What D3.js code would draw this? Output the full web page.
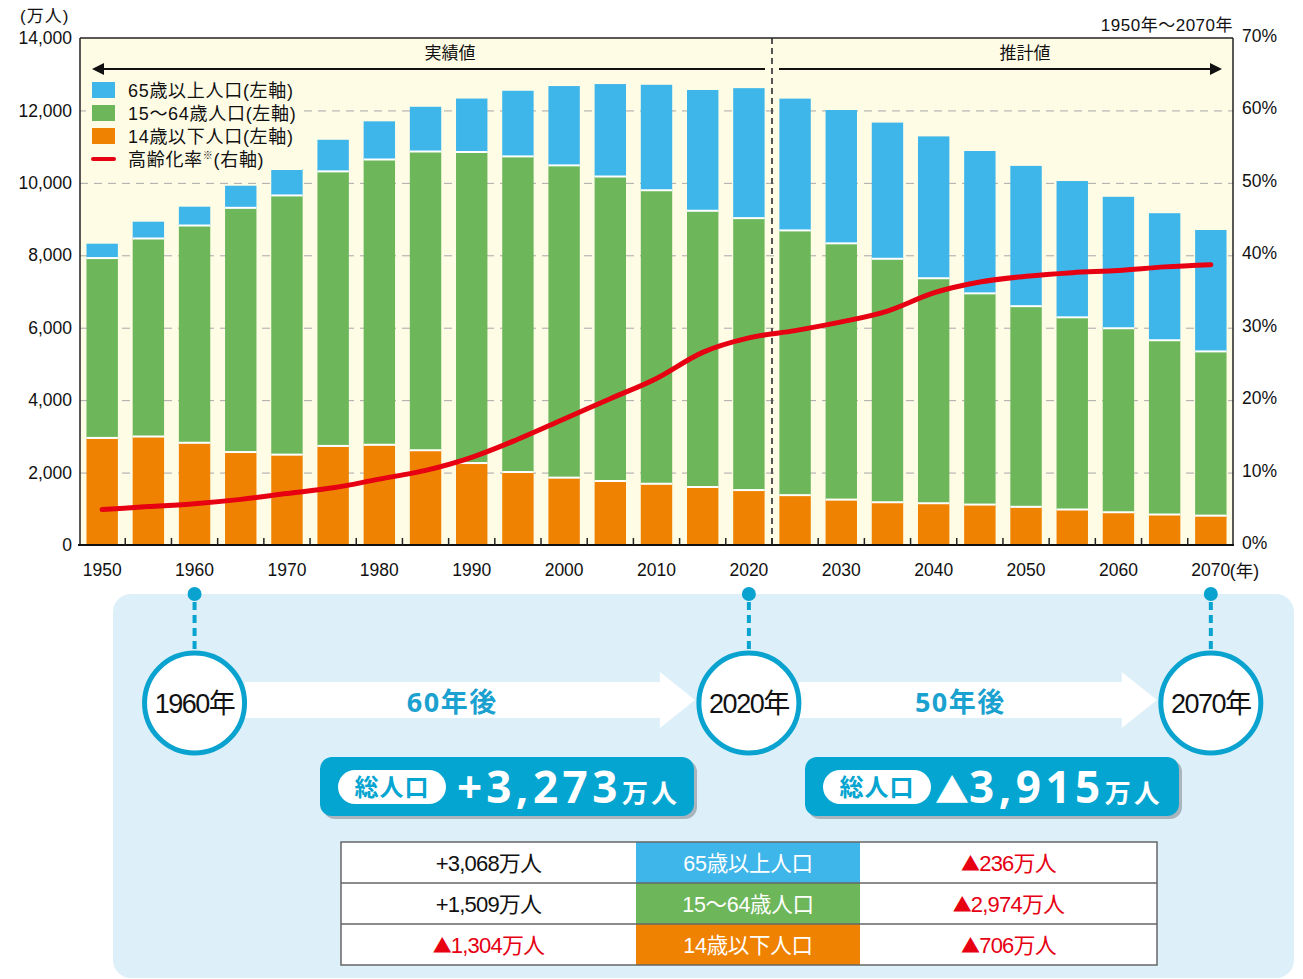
<!DOCTYPE html>
<html lang="ja">
<head>
<meta charset="utf-8">
<script src="https://cdn.jsdelivr.net/npm/d3@7"></script>
<style>
  body { margin: 0; background: #fff; }
  text { font-family: "Liberation Sans", "Noto Sans CJK JP", sans-serif; }
</style>
</head>
<body>
<svg id="chart" width="1303" height="979"></svg>
<script>
// 人口の推移 (万人) 1950-2070
const years = [1950, 1955, 1960, 1965, 1970, 1975, 1980, 1985, 1990, 1995, 2000, 2005, 2010,
  2015, 2020, 2025, 2030, 2035, 2040, 2045, 2050, 2055, 2060, 2065, 2070];
const under15 = [2943, 2980, 2807, 2553, 2482, 2722, 2751, 2603, 2249, 2001, 1847, 1752, 1680,
  1589, 1503, 1363, 1240, 1169, 1142, 1103, 1041, 966, 893, 831, 797];
const age15to64 = [4966, 5473, 6000, 6744, 7157, 7581, 7883, 8251, 8590, 8716, 8622, 8409, 8103,
  7629, 7509, 7310, 7076, 6722, 6213, 5832, 5540, 5307, 5078, 4809, 4535];
const over65 = [411, 475, 535, 624, 733, 887, 1065, 1247, 1489, 1826, 2204, 2567, 2925,
  3347, 3603, 3653, 3696, 3773, 3928, 3945, 3888, 3777, 3644, 3522, 3367];
// 高齢化率 (%)
const agingRate = [4.9, 5.3, 5.7, 6.3, 7.1, 7.9, 9.1, 10.3, 12.1, 14.6, 17.4, 20.2, 23.0,
  26.6, 28.6, 29.6, 30.8, 32.3, 34.8, 36.3, 37.1, 37.6, 37.9, 38.4, 38.7];

const leftTicks = [0, 2000, 4000, 6000, 8000, 10000, 12000, 14000];
const rightTicks = [0, 10, 20, 30, 40, 50, 60, 70];
const yearLabels = [1950, 1960, 1970, 1980, 1990, 2000, 2010, 2020, 2030, 2040, 2050, 2060, 2070];
const legendNames = ["65歳以上人口(左軸)", "15～64歳人口(左軸)", "14歳以下人口(左軸)"];
const groupNames = ["65歳以上人口", "15～64歳人口", "14歳以下人口"];
const milestones = [1960, 2020, 2070];

// 増減 (万人)
const totalChange = [3273, -3915];
const change1960to2020 = [3068, 1509, -1304];
const change2020to2070 = [-236, -2974, -706];

const colors = { over65: "#3FB6EA", age15to64: "#6DB75A", under15: "#EF8200" };
const red = "#E60012";
const cyan = "#0AA3CF";

const svg = d3.select("#chart");

const plotLeft = 80, plotRight = 1233, plotTop = 38, plotBottom = 545;

const x = d3.scaleBand()
  .domain(years)
  .range([plotLeft, plotRight])
  .paddingInner(0.32)
  .paddingOuter(0.14);
const yL = d3.scaleLinear().domain([0, 14000]).range([plotBottom, plotTop]);
const yR = d3.scaleLinear().domain([0, 70]).range([plotBottom, plotTop]);
const bw = x.bandwidth();

// fondo crema
svg.append("rect")
  .attr("x", plotLeft).attr("y", plotTop)
  .attr("width", plotRight - plotLeft).attr("height", plotBottom - plotTop)
  .attr("fill", "#FFFCE6");

// grid
const grid = svg.append("g")
  .attr("transform", `translate(${plotLeft},0)`)
  .call(d3.axisLeft(yL).tickValues(leftTicks.slice(1, -1)).tickSize(-(plotRight - plotLeft)).tickFormat(""));
grid.select(".domain").remove();
grid.selectAll("line")
  .attr("stroke", "#A8A8A8")
  .attr("stroke-dasharray", "8,6");

// barras apiladas
const rows = years.map((yr, i) => ({
  year: yr, under15: under15[i], age15to64: age15to64[i], over65: over65[i]
}));
const series = d3.stack().keys(["under15", "age15to64", "over65"])(rows);

const layers = svg.append("g")
  .selectAll("g")
  .data(series)
  .join("g")
  .attr("fill", d => colors[d.key]);

layers.selectAll("rect")
  .data(d => d)
  .join("rect")
  .attr("x", d => x(d.data.year))
  .attr("width", bw)
  .attr("y", d => yL(d[1]))
  .attr("height", d => yL(d[0]) - yL(d[1]));

// linea blanca entre segmentos
svg.append("g")
  .selectAll("g")
  .data(series.slice(1))
  .join("g")
  .selectAll("line")
  .data(d => d)
  .join("line")
  .attr("x1", d => x(d.data.year))
  .attr("x2", d => x(d.data.year) + bw)
  .attr("y1", d => yL(d[0]) - 0.5)
  .attr("y2", d => yL(d[0]) - 0.5)
  .attr("stroke", "#fff")
  .attr("stroke-width", 2);

// separador 実績値 / 推計値
const sepX = x(2025) - x.step() * x.paddingInner() / 2;
svg.append("line")
  .attr("x1", sepX).attr("x2", sepX)
  .attr("y1", plotTop).attr("y2", plotBottom)
  .attr("stroke", "#555")
  .attr("stroke-width", 2)
  .attr("stroke-dasharray", "6,4");

// 高齢化率
const line = d3.line()
  .x((d, i) => x(years[i]) + bw / 2)
  .y(d => yR(d))
  .curve(d3.curveMonotoneX);
svg.append("path")
  .datum(agingRate)
  .attr("d", line)
  .attr("fill", "none")
  .attr("stroke", red)
  .attr("stroke-width", 5)
  .attr("stroke-linecap", "round")
  .attr("stroke-linejoin", "round");

// bordes
svg.append("line").attr("x1", plotLeft).attr("x2", plotRight).attr("y1", plotTop).attr("y2", plotTop)
  .attr("stroke", "#222").attr("stroke-width", 1.5);
svg.append("line").attr("x1", plotLeft).attr("x2", plotLeft).attr("y1", plotTop).attr("y2", plotBottom)
  .attr("stroke", "#222").attr("stroke-width", 1.5);
svg.append("line").attr("x1", plotRight).attr("x2", plotRight).attr("y1", plotTop).attr("y2", plotBottom)
  .attr("stroke", "#222").attr("stroke-width", 1.5);
svg.append("line").attr("x1", plotLeft - 2).attr("x2", plotRight + 1).attr("y1", plotBottom).attr("y2", plotBottom)
  .attr("stroke", "#111").attr("stroke-width", 2);

// ticks x entre barras
svg.append("g")
  .selectAll("line")
  .data(years.slice(1))
  .join("line")
  .attr("x1", d => x(d) - x.step() * x.paddingInner() / 2)
  .attr("x2", d => x(d) - x.step() * x.paddingInner() / 2)
  .attr("y1", plotBottom - 7)
  .attr("y2", plotBottom)
  .attr("stroke", "#222")
  .attr("stroke-width", 1.5);

// ejes
const axisL = svg.append("g")
  .attr("transform", `translate(${plotLeft},0)`)
  .call(d3.axisLeft(yL).tickValues(leftTicks).tickFormat(d3.format(",")).tickSize(0).tickPadding(8));
const axisR = svg.append("g")
  .attr("transform", `translate(${plotRight},0)`)
  .call(d3.axisRight(yR).tickValues(rightTicks).tickFormat(d => d + "%").tickSize(0).tickPadding(9));
const axisB = svg.append("g")
  .attr("transform", `translate(0,${plotBottom})`)
  .call(d3.axisBottom(x).tickValues(yearLabels).tickSize(0).tickPadding(19));

[axisL, axisR, axisB].forEach(a => {
  a.select(".domain").remove();
  a.selectAll("text")
    .attr("fill", "#111")
    .style("font-size", "17.5px")
    .style("font-family", "Liberation Sans, Noto Sans CJK JP, sans-serif");
});
axisR.selectAll("text").attr("dy", "0.2em");

svg.append("text")
  .attr("x", x(2070) + bw / 2 + 19)
  .attr("y", plotBottom + 32)
  .attr("font-size", 17.5)
  .attr("fill", "#111")
  .text("(年)");

svg.append("text")
  .attr("x", 20).attr("y", 22)
  .attr("font-size", 17)
  .attr("letter-spacing", 1)
  .attr("fill", "#111")
  .text("(万人)");

svg.append("text")
  .attr("x", plotRight).attr("y", 31)
  .attr("text-anchor", "end")
  .attr("font-size", 17)
  .attr("letter-spacing", 0.5)
  .attr("fill", "#111")
  .text("1950年～2070年");

// flechas 実績値 / 推計値
const arrowY = 69;
svg.append("line").attr("x1", 100).attr("x2", sepX - 7).attr("y1", arrowY).attr("y2", arrowY)
  .attr("stroke", "#111").attr("stroke-width", 2);
svg.append("polygon")
  .attr("points", `92,${arrowY} 104,${arrowY - 6} 104,${arrowY + 6}`)
  .attr("fill", "#111");
svg.append("line").attr("x1", sepX + 7).attr("x2", 1214).attr("y1", arrowY).attr("y2", arrowY)
  .attr("stroke", "#111").attr("stroke-width", 2);
svg.append("polygon")
  .attr("points", `1222,${arrowY} 1210,${arrowY - 6} 1210,${arrowY + 6}`)
  .attr("fill", "#111");
svg.append("text").attr("x", 450).attr("y", 59).attr("text-anchor", "middle")
  .attr("font-size", 17).attr("fill", "#111").text("実績値");
svg.append("text").attr("x", 1025).attr("y", 59).attr("text-anchor", "middle")
  .attr("font-size", 17).attr("fill", "#111").text("推計値");

// leyenda
const legend = svg.append("g");
legend.append("rect")
  .attr("x", 86).attr("y", 78).attr("width", 216).attr("height", 92)
  .attr("fill", "#FFFCE6");
const legendColors = [colors.over65, colors.age15to64, colors.under15];
legend.selectAll(".sw")
  .data(legendNames)
  .join("rect")
  .attr("class", "sw")
  .attr("x", 92)
  .attr("y", (d, i) => 82 + i * 23)
  .attr("width", 23)
  .attr("height", 16)
  .attr("fill", (d, i) => legendColors[i]);
legend.selectAll(".lt")
  .data(legendNames)
  .join("text")
  .attr("class", "lt")
  .attr("x", 128)
  .attr("y", (d, i) => 96.5 + i * 23)
  .attr("font-size", 18)
  .attr("letter-spacing", 0.7)
  .attr("fill", "#111")
  .text(d => d);
legend.append("line")
  .attr("x1", 93).attr("x2", 114).attr("y1", 159).attr("y2", 159)
  .attr("stroke", red).attr("stroke-width", 4).attr("stroke-linecap", "round");
const lt4 = legend.append("text")
  .attr("x", 128).attr("y", 165.5)
  .attr("font-size", 18)
  .attr("letter-spacing", 0.7)
  .attr("fill", "#111");
lt4.append("tspan").text("高齢化率");
lt4.append("tspan").attr("font-size", 10).attr("dy", -7).text("※");
lt4.append("tspan").attr("dy", 7).text("(右軸)");

// ---- panel inferior ----
svg.append("rect")
  .attr("x", 113).attr("y", 594)
  .attr("width", 1181).attr("height", 384)
  .attr("rx", 18)
  .attr("fill", "#DDF0FA");

const cx = d => x(d) + bw / 2;
const circleY = 703, circleR = 50;

// flechas blancas entre años
d3.pairs(milestones).forEach(([a, b]) => {
  const x0 = cx(a) + circleR;
  const tip = cx(b) - circleR - 4;
  const headStart = tip - 35;
  svg.append("polygon")
    .attr("points", [
      [x0, circleY - 21], [headStart, circleY - 21], [headStart, circleY - 31], [tip, circleY - 3],
      [headStart, circleY + 25], [headStart, circleY + 15], [x0, circleY + 15]
    ].map(p => p.join(",")).join(" "))
    .attr("fill", "#fff");
  svg.append("text")
    .attr("x", (x0 + headStart) / 2)
    .attr("y", circleY + 9)
    .attr("text-anchor", "middle")
    .attr("font-size", 27)
    .attr("font-weight", 700)
    .attr("letter-spacing", 1.5)
    .attr("fill", "#1BA1CF")
    .style("font-family", "Noto Sans, Noto Sans CJK JP, sans-serif")
    .text((b - a) + "年後");
});

const ms = svg.append("g")
  .selectAll("g")
  .data(milestones)
  .join("g")
  .attr("transform", d => `translate(${cx(d)},0)`);
ms.append("line")
  .attr("y1", 602).attr("y2", circleY - circleR - 3)
  .attr("stroke", cyan).attr("stroke-width", 4)
  .attr("stroke-dasharray", "8,5");
ms.append("circle")
  .attr("cy", 594).attr("r", 7)
  .attr("fill", cyan);
ms.append("circle")
  .attr("cy", circleY).attr("r", circleR)
  .attr("fill", "#fff")
  .attr("stroke", cyan)
  .attr("stroke-width", 5);
ms.append("text")
  .attr("y", circleY + 10)
  .attr("text-anchor", "middle")
  .attr("font-size", 27)
  .attr("letter-spacing", -1.5)
  .attr("fill", "#111")
  .text(d => d + "年");

// 総人口
const boxX = [320, 805];
const boxW = 374;

totalChange.forEach((v, i) => {
  const g = svg.append("g").attr("transform", `translate(${boxX[i]},757)`);
  g.append("rect").attr("x", 3).attr("y", 3).attr("width", boxW).attr("height", 59)
    .attr("rx", 12).attr("fill", "#A9B4BC");
  g.append("rect").attr("width", boxW).attr("height", 59)
    .attr("rx", 12).attr("fill", "#04A5D0");
  g.append("rect").attr("x", 18).attr("y", 13).attr("width", 108).attr("height", 34)
    .attr("rx", 17).attr("fill", "#fff");
  g.append("text")
    .attr("x", 72).attr("y", 39)
    .attr("text-anchor", "middle")
    .attr("font-size", 24).attr("font-weight", 700)
    .attr("letter-spacing", 1)
    .attr("fill", "#04A5D0")
    .style("font-family", "Noto Sans CJK JP, sans-serif")
    .text("総人口");
  const t = g.append("text")
    .attr("x", v < 0 ? 130 : 137).attr("y", 46)
    .attr("fill", "#fff")
    .attr("font-weight", 700)
    .style("font-family", "Noto Sans, Noto Sans CJK JP, sans-serif");
  if (v < 0) {
    t.append("tspan").attr("font-size", 34)
      .style("font-family", "Noto Sans CJK JP, sans-serif").text("▲");
  } else {
    t.append("tspan").attr("font-size", 44).attr("letter-spacing", 4).text("+");
  }
  t.append("tspan").attr("font-size", 44).attr("letter-spacing", 4.5).text(d3.format(",")(Math.abs(v)));
  t.append("tspan").attr("font-size", 26).attr("dx", 0).attr("letter-spacing", 3).text("万人");
});

// tabla
const tableColors = [colors.over65, colors.age15to64, colors.under15];
const tX = 341, tY = 842, rowH = 41;
const colX = [341, 636, 860, 1157];

function diffText(sel, v) {
  const t = sel.attr("fill", v < 0 ? red : "#111");
  if (v < 0) {
    t.append("tspan").attr("font-size", 19)
      .style("font-family", "Noto Sans CJK JP, sans-serif").text("▲");
  } else {
    t.append("tspan").text("+");
  }
  t.append("tspan").text(d3.format(",")(Math.abs(v)) + "万人");
}

const table = svg.append("g");
table.selectAll(".row")
  .data(groupNames)
  .join("g")
  .attr("class", "row")
  .each(function(name, i) {
    const g = d3.select(this);
    const y0 = tY + i * rowH;
    g.append("rect").attr("x", colX[0]).attr("y", y0).attr("width", colX[1] - colX[0]).attr("height", rowH)
      .attr("fill", "#fff");
    g.append("rect").attr("x", colX[1]).attr("y", y0).attr("width", colX[2] - colX[1]).attr("height", rowH)
      .attr("fill", tableColors[i]);
    g.append("rect").attr("x", colX[2]).attr("y", y0).attr("width", colX[3] - colX[2]).attr("height", rowH)
      .attr("fill", "#fff");
    g.append("text")
      .attr("x", (colX[0] + colX[1]) / 2).attr("y", y0 + 29)
      .attr("text-anchor", "middle").attr("font-size", 22).attr("letter-spacing", -0.8)
      .call(diffText, change1960to2020[i]);
    g.append("text")
      .attr("x", (colX[1] + colX[2]) / 2).attr("y", y0 + 29)
      .attr("text-anchor", "middle").attr("font-size", 21.5).attr("letter-spacing", -0.3)
      .attr("fill", "#fff")
      .text(name);
    g.append("text")
      .attr("x", (colX[2] + colX[3]) / 2).attr("y", y0 + 29)
      .attr("text-anchor", "middle").attr("font-size", 22).attr("letter-spacing", -0.8)
      .call(diffText, change2020to2070[i]);
  });
// lineas de la tabla
table.append("rect")
  .attr("x", tX).attr("y", tY).attr("width", colX[3] - colX[0]).attr("height", rowH * 3)
  .attr("fill", "none").attr("stroke", "#666").attr("stroke-width", 1.5);
table.selectAll(".hl")
  .data([1, 2])
  .join("line")
  .attr("class", "hl")
  .attr("x1", colX[0]).attr("x2", colX[3])
  .attr("y1", d => tY + d * rowH).attr("y2", d => tY + d * rowH)
  .attr("stroke", "#666").attr("stroke-width", 1.5);
</script>
</body>
</html>
